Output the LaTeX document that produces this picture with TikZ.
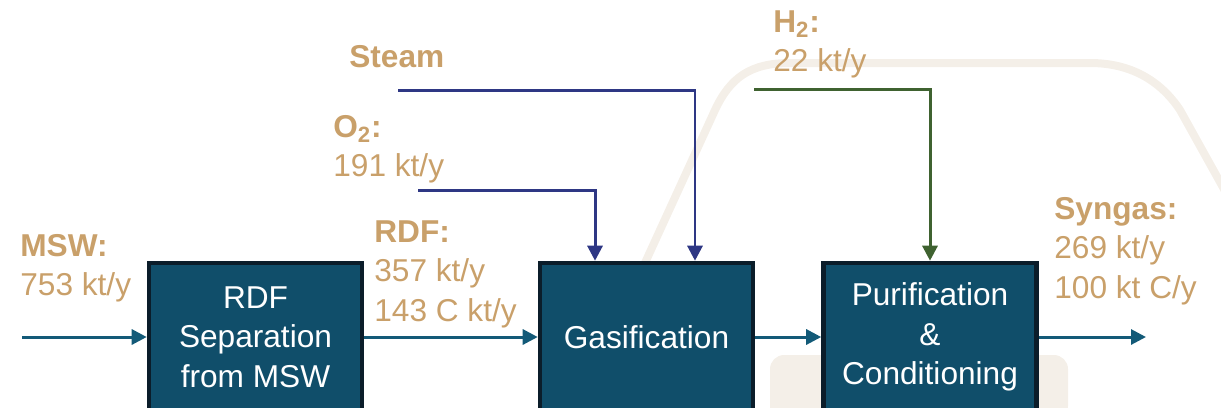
\documentclass[tikz,border=0pt]{standalone}
\usepackage{fontspec}
\setmainfont{Liberation Sans}
\usetikzlibrary{arrows.meta,positioning}

\definecolor{boxfill}{HTML}{104E6A}
\definecolor{boxline}{HTML}{0B1D2A}
\definecolor{flowc}{HTML}{135A78}
\definecolor{navy}{HTML}{2E3784}
\definecolor{leaf}{HTML}{3F6230}
\definecolor{tan}{HTML}{C9A06A}
\definecolor{ghost}{HTML}{F4EFE8}

\begin{document}
\begin{tikzpicture}[
  x=0.02cm, y=-0.02cm,
  font=\fontsize{18}{22.5}\selectfont,
  unit/.style={draw=boxline, fill=boxfill, line width=2.6pt, text=white, align=center,
               minimum width=4.26cm, minimum height=2.96cm, inner sep=0pt},
  flow/.style={-{Triangle[length=0.3cm,width=0.3cm]}, line width=1.7pt, draw=flowc},
  feed/.style={-{Triangle[length=0.3cm,width=0.3cm]}, line width=1.7pt},
  stream/.style={text=tan, align=left, anchor=north west, inner sep=0pt},
]
\useasboundingbox (0,0) rectangle (1221,407);
\clip (0,0) rectangle (1221,407);

% ---------- faint backdrop ----------
\draw[ghost, line width=0.16cm, line cap=round]
  (628,300) -- (715,110) .. controls (730,78) and (750,63) .. (790,63)
  -- (1090,63) .. controls (1130,63) and (1160,80) .. (1180,110) -- (1230,200);
\fill[ghost, rounded corners=8pt] (770,355) rectangle (1068,420);

% ---------- process units ----------
\node[unit] (sep) at (255.5,337) {RDF\\Separation\\from MSW};
\node[unit] (gas) at (646.5,337) {Gasification};
\node[unit] (pur) at (930,337)   {Purification\\\&\\Conditioning};

% ---------- main line ----------
\coordinate (mswin) at (22,337);
\coordinate (synout) at (1146,337);
\draw[flow] (mswin) -- (sep.west);
\draw[flow] (sep.east) -- (gas.west);
\draw[flow] (gas.east) -- (pur.west);
\draw[flow] (pur.east) -- (synout);

% ---------- side feeds ----------
\coordinate (steamin) at (398,90);
\coordinate (oxin) at (418,190);
\coordinate (hin) at (754,89);
\draw[feed, navy] (steamin) -| ([xshift=0.97cm]gas.north);
\draw[feed, navy] (oxin) -| ([xshift=-1.03cm]gas.north);
\draw[feed, leaf] (hin) -| (pur.north);

% ---------- stream labels ----------
\node[stream] (lmsw)   at (20,234)   {\textbf{MSW:}\\753 kt/y};
\node[stream] (lsteam) at (349,45)   {\textbf{Steam}};
\node[stream] (lox)    at (333,115)  {\textbf{O\textsubscript{2}:}\\191 kt/y};
\node[stream] (lrdf)   at (374,220)  {\textbf{RDF:}\\357 kt/y\\143 C kt/y};
\node[stream] (lh)     at (773,10)   {\textbf{H\textsubscript{2}:}\\22 kt/y};
\node[stream] (lsyn)   at (1054,197) {\textbf{Syngas:}\\269 kt/y\\100 kt C/y};
\end{tikzpicture}
\end{document}
